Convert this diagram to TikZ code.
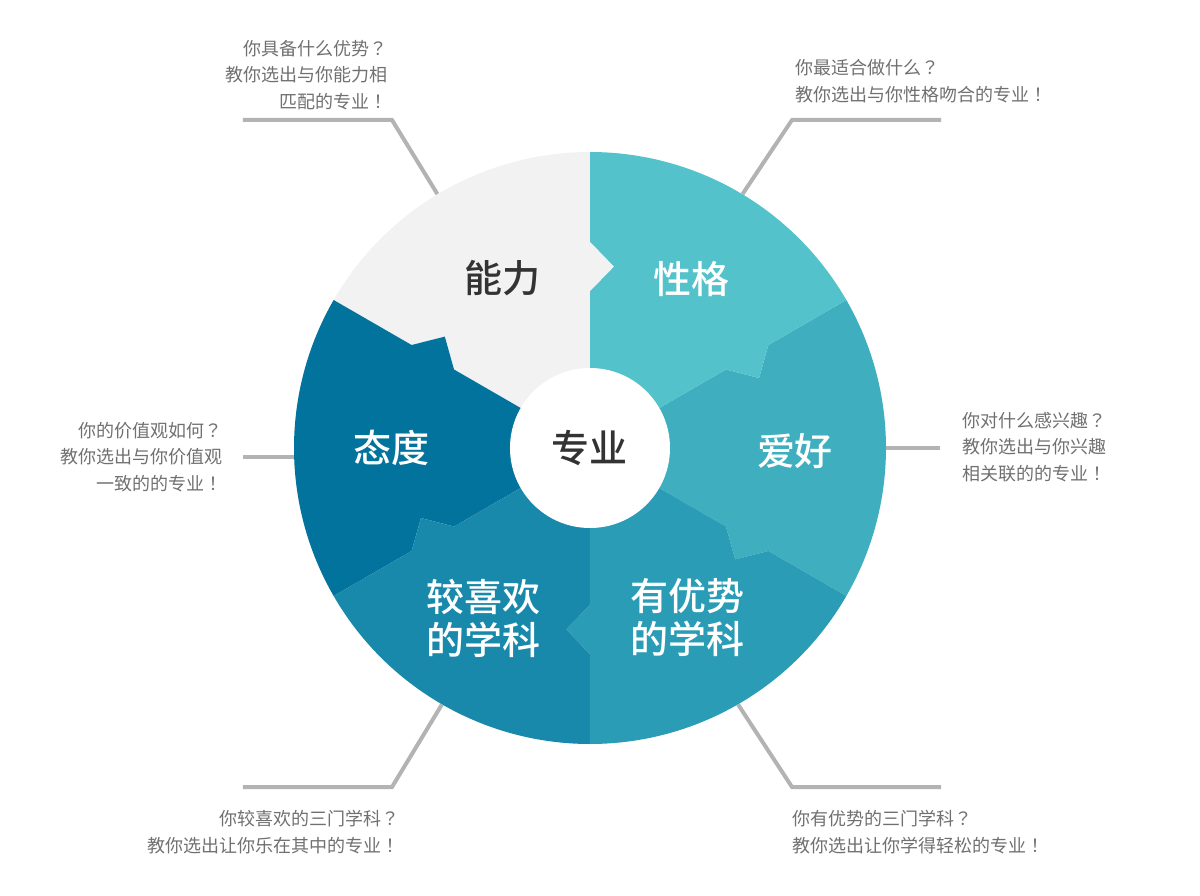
\documentclass[tikz,border=0pt]{standalone}
\usepackage{fontspec}
\setmainfont{Noto Sans CJK SC}
\newfontfamily\medfont{Noto Sans CJK SC Medium}
\newfontfamily\jpfont{Noto Sans CJK JP} % signos de puntuacion centrados
\usepackage{tikz}
\usetikzlibrary{calc}

\definecolor{nengli}{HTML}{F2F2F2}
\definecolor{xingge}{HTML}{53C2CA}
\definecolor{aihao}{HTML}{3FAFC0}
\definecolor{youshi}{HTML}{2A9CB6}
\definecolor{xihuan}{HTML}{1889AA}
\definecolor{taidu}{HTML}{02739C}
\definecolor{grislinea}{HTML}{B3B3B3}
\definecolor{gristexto}{HTML}{707070}
\definecolor{oscuro}{HTML}{333333}

\begin{document}
\begin{tikzpicture}[
    x=1pt, y=1pt, % 1 unidad = 1 px de la imagen
    sector/.style={text=white, align=center, font=\fontsize{38}{43}\selectfont\medfont}, % Etiquetas de las piezas
    note/.style={text=gristexto, inner sep=0pt, font=\fontsize{18}{26.5}\selectfont}, % Textos de las llamadas
    callout/.style={draw=grislinea, line width=4pt} % Lineas de las llamadas
]
    \useasboundingbox (-590,-447) rectangle (610,448);

    % --- Rueda (solo para los anclajes) ---
    \node[circle, minimum size=592pt, inner sep=0pt] (wheel) at (0,0) {};

    % --- Coordenadas de las llamadas ---
    \coordinate (K1) at (-198, 328);  % codo arriba izquierda
    \coordinate (L1) at (-347, 328);
    \coordinate (K2) at (202, 328);   % codo arriba derecha
    \coordinate (L2) at (351, 328);
    \coordinate (L3) at (350, 0);     % derecha
    \coordinate (L4) at (-347, -9);   % izquierda
    \coordinate (K5) at (-198, -339); % codo abajo izquierda
    \coordinate (L5) at (-347, -339);
    \coordinate (K6) at (202, -339);  % codo abajo derecha
    \coordinate (L6) at (351, -339);

    % --- Lineas de las llamadas ---
    \draw[callout] (wheel.121) -- (K1) -- (L1);
    \draw[callout] (wheel.59) -- (K2) -- (L2);
    \draw[callout] (wheel.east) -- (L3);
    \draw[callout] (L4 -| wheel.west) -- (L4);
    \draw[callout] (wheel.240) -- (K5) -- (L5);
    \draw[callout] (wheel.300) -- (K6) -- (L6);

    % --- Piezas del rompecabezas ---
    \fill[aihao] (0,0) -- (-30:157) -- (-37.5:183) -- (-30:206) -- (-30:296) arc (-30:30:296) -- (30:206) -- (22.5:183) -- (30:157) -- cycle; % Aficiones
    \fill[xingge] (0,0) -- (30:157) -- (22.5:183) -- (30:206) -- (30:296) arc (30:90:296) -- (90:206) -- (82.5:183) -- (90:157) -- cycle; % Caracter
    \fill[nengli] (0,0) -- (90:157) -- (82.5:183) -- (90:206) -- (90:296) arc (90:150:296) -- (150:206) -- (142.5:183) -- (150:157) -- cycle; % Capacidad
    \fill[taidu] (0,0) -- (150:157) -- (142.5:183) -- (150:206) -- (150:296) arc (150:210:296) -- (210:206) -- (202.5:183) -- (210:157) -- cycle; % Actitud
    \fill[xihuan] (0,0) -- (210:157) -- (202.5:183) -- (210:206) -- (210:296) arc (210:270:296) -- (270:206) -- (262.5:183) -- (270:157) -- cycle; % Asignaturas preferidas
    \fill[youshi] (0,0) -- (270:157) -- (262.5:183) -- (270:206) -- (270:296) arc (270:330:296) -- (330:206) -- (322.5:183) -- (330:157) -- cycle; % Asignaturas fuertes

    % --- Circulo central ---
    \node[circle, fill=white, minimum size=160pt, inner sep=0pt, text=oscuro, font=\fontsize{38}{43}\selectfont\medfont] (core) at (0,0) {专业};

    % --- Etiquetas de las piezas ---
    \node[sector, text=oscuro] (Nengli) at (-87, 170) {能力};
    \node[sector] (Xingge) at (102, 169) {性格};
    \node[sector] (Aihao) at (205, -3) {爱好};
    \node[sector] (Taidu) at (-198, 0) {态度};
    \node[sector] (Xihuan) at (-106, -170) {较喜欢\\的学科};
    \node[sector] (Youshi) at (98, -170) {有优势\\的学科};

    % --- Textos de las llamadas ---
    \node[note, anchor=east, align=right] (T1) at (-202, 373) {你具备什么优势{\jpfont ？}\\教你选出与你能力相\\匹配的专业{\jpfont ！}};
    \node[note, anchor=west, align=left] (T2) at (205, 367) {你最适合做什么{\jpfont ？}\\教你选出与你性格吻合的专业{\jpfont ！}};
    \node[note, anchor=west, align=left] (T3) at (372, 1) {你对什么感兴趣{\jpfont ？}\\教你选出与你兴趣\\相关联的的专业{\jpfont ！}};
    \node[note, anchor=east, align=right] (T4) at (-367, -9) {你的价值观如何{\jpfont ？}\\教你选出与你价值观\\一致的的专业{\jpfont ！}};
    \node[note, anchor=east, align=right] (T5) at (-190, -384) {你较喜欢的三门学科{\jpfont ？}\\教你选出让你乐在其中的专业{\jpfont ！}};
    \node[note, anchor=west, align=left] (T6) at (202, -384) {你有优势的三门学科{\jpfont ？}\\教你选出让你学得轻松的专业{\jpfont ！}};

\end{tikzpicture}
\end{document}
